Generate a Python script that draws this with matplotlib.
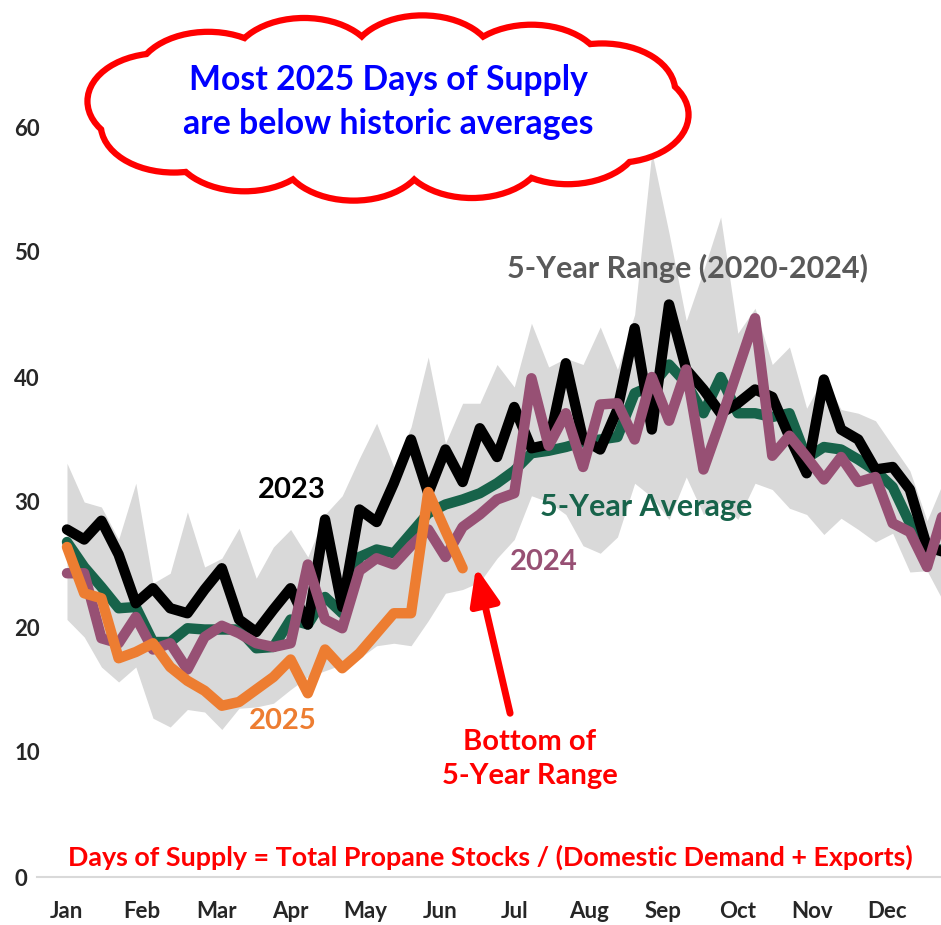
import numpy as np
import matplotlib.pyplot as plt
from matplotlib.patches import Ellipse

plt.rcParams['font.family'] = ['Lato', 'DejaVu Sans']
plt.rcParams['font.weight'] = 'bold'

months = ['Jan', 'Feb', 'Mar', 'Apr', 'May', 'Jun', 'Jul', 'Aug', 'Sep', 'Oct', 'Nov', 'Dec']

# weekly days of supply
range_hi = [33.1, 30.0, 29.6, 27.0, 31.5, 23.5, 24.3, 29.2, 24.8, 25.5, 27.9, 23.9, 26.4,
            27.8, 25.6, 29.0, 30.5, 33.5, 36.3, 32.8, 36.0, 41.6, 34.7, 37.9, 37.9, 41.0,
            39.2, 44.3, 40.8, 41.5, 41.0, 44.0, 40.6, 45.0, 58.0, 51.5, 44.5, 48.5, 52.8,
            43.5, 45.5, 41.0, 42.4, 37.5, 40.0, 37.4, 37.1, 36.5, 34.5, 32.5, 28.5, 31.8]
range_lo = [20.6, 19.2, 16.8, 15.6, 16.8, 12.7, 12.0, 13.4, 13.2, 11.8, 13.5, 13.6, 13.9,
            15.0, 16.0, 16.5, 17.0, 17.5, 18.5, 18.7, 18.5, 20.5, 22.7, 23.0, 23.6, 25.5,
            27.0, 30.5, 30.0, 29.0, 26.5, 25.9, 27.2, 31.5, 30.4, 28.6, 32.0, 29.0, 30.0,
            28.6, 31.5, 31.0, 29.5, 29.0, 27.4, 28.7, 27.8, 26.8, 27.5, 24.4, 24.5, 21.9]
avg_5yr = [26.8, 24.8, 23.2, 21.5, 21.6, 18.8, 18.8, 19.9, 19.8, 19.8, 19.8, 18.3, 18.4,
           20.6, 20.2, 22.4, 21.1, 25.6, 26.2, 25.9, 27.5, 29.1, 29.8, 30.2, 30.7, 31.5,
           32.5, 33.9, 34.1, 34.4, 34.8, 35.0, 35.2, 38.7, 39.3, 41.0, 39.5, 37.1, 40.0,
           37.1, 37.1, 36.8, 37.1, 33.5, 34.4, 34.2, 33.4, 32.5, 31.2, 28.3, 26.2, 26.2]
y2023 = [27.8, 27.0, 28.5, 25.8, 21.9, 23.1, 21.5, 21.1, 23.0, 24.7, 20.6, 19.6, 21.4,
         23.1, 20.2, 28.6, 21.6, 29.4, 28.4, 31.5, 35.0, 30.7, 34.2, 31.6, 35.9, 33.6,
         37.6, 34.3, 34.6, 41.1, 35.0, 34.2, 37.4, 43.9, 35.8, 45.8, 40.6, 39.0, 37.1,
         37.9, 39.0, 38.4, 35.2, 32.3, 39.8, 35.8, 35.0, 32.6, 32.8, 31.0, 26.4, 26.0]
y2024 = [24.3, 24.3, 19.1, 18.7, 20.8, 18.2, 18.7, 16.6, 19.2, 20.1, 19.5, 18.7, 18.4,
         18.7, 25.0, 20.6, 19.9, 24.5, 25.5, 25.0, 26.5, 27.8, 25.6, 28.0, 29.0, 30.2,
         30.7, 39.9, 34.5, 37.1, 32.8, 37.8, 37.9, 35.0, 40.0, 36.5, 40.6, 32.6, 36.5,
         40.6, 44.7, 33.7, 35.3, 33.6, 31.8, 33.6, 31.6, 32.0, 28.3, 27.6, 24.8, 29.4]
y2025 = [26.4, 22.7, 22.3, 17.5, 18.0, 18.7, 16.8, 15.7, 14.9, 13.7, 14.0, 15.0, 16.0,
         17.4, 14.7, 18.2, 16.7, 17.9, 19.5, 21.1, 21.1, 30.8, 27.7, 24.7]

weeks = np.arange(len(y2023))
weeks_2025 = np.arange(len(y2025))

fig = plt.figure(figsize=(9.41, 9.25), dpi=100)
ax = fig.add_axes([37/941, 48/925, 904/941, 877/925])

ax.fill_between(weeks, range_lo, range_hi, color='#D9D9D9', lw=0, zorder=1)
kw = dict(lw=7.5, solid_joinstyle='round', solid_capstyle='round')
ax.plot(weeks, avg_5yr, color='#17634A', zorder=2, **kw)
ax.plot(weeks, y2023, color='black', zorder=3, **kw)
ax.plot(weeks, y2024, color='#975074', zorder=4, **kw)
ax.plot(weeks_2025, y2025, color='#ED7D31', zorder=5, **kw)

ax.set_xlim(-1.744, 50.81)
ax.set_ylim(0, 70.16)
for s in ['top', 'right', 'left']:
    ax.spines[s].set_visible(False)
ax.spines['bottom'].set_color('#D9D9D9')
ax.spines['bottom'].set_linewidth(1.5)

ax.set_yticks(range(0, 61, 10))
ax.tick_params(axis='y', length=0, pad=16.5, labelsize=16, labelcolor='#262626')
for lab in ax.get_yticklabels():
    lab.set_ha('left')
ax.set_xticks(np.arange(12) * 52 / 12)
ax.set_xticklabels(months)
ax.tick_params(axis='x', length=0, pad=17, labelsize=16, labelcolor='#262626')

ax.text(13.08, 30.96, '2023', color='black', fontsize=21, ha='center', va='center', zorder=6)
ax.text(33.66, 29.6, '5-Year Average', color='#17634A', fontsize=22, ha='center', va='center', zorder=6)
ax.text(27.73, 25.2, '2024', color='#975074', fontsize=21, ha='center', va='center', zorder=6)
ax.text(12.56, 12.48, '2025', color='#ED7D31', fontsize=21, ha='center', va='center', zorder=6)
ax.text(36.1, 48.7, '5-Year Range (2020-2024)', color='#595959', fontsize=22, ha='center', va='center', zorder=6)
ax.text(26.9, 9.44, 'Bottom of\n5-Year Range', color='red', fontsize=21, ha='center', va='center',
        linespacing=1.4, zorder=6)
ax.text(24.6, 1.6, 'Days of Supply = Total Propane Stocks / (Domestic Demand + Exports)', color='red',
        fontsize=19.4, ha='center', va='center', zorder=6)
ax.annotate('', xy=(23.78, 24.8), xytext=(25.76, 13.1),
            arrowprops=dict(arrowstyle='-|>,head_width=0.4,head_length=1.0', lw=5, color='red',
                            mutation_scale=22, shrinkA=0, shrinkB=0), zorder=7)

# cloud callout, in pixel coordinates
ov = fig.add_axes([0, 0, 1, 1])
ov.set_xlim(0, 941)
ov.set_ylim(925, 0)
ov.axis('off')
cx0, cy0, a, b, rx, ry = 388, 108, 230, 45, 70, 45
t = np.linspace(0, 2 * np.pi, 13)[:-1] + 0.15
lobes = [(cx0 + a * np.cos(tt), cy0 + b * np.sin(tt)) for tt in t]
for cx, cy in lobes:
    ov.add_patch(Ellipse((cx, cy), 2 * rx, 2 * ry, facecolor='none', edgecolor='red', lw=9, zorder=1))
for cx, cy in lobes:
    ov.add_patch(Ellipse((cx, cy), 2 * rx, 2 * ry, facecolor='white', edgecolor='none', zorder=2))
ov.add_patch(Ellipse((cx0, cy0), 2 * a, 2 * b + 10, facecolor='white', edgecolor='none', zorder=2))
ov.text(388, 80, 'Most 2025 Days of Supply', color='#0000FF', fontsize=24.3, ha='center', va='center', zorder=3)
ov.text(388, 124, 'are below historic averages', color='#0000FF', fontsize=24.3, ha='center', va='center', zorder=3)

fig.savefig('out.png', dpi=100)
